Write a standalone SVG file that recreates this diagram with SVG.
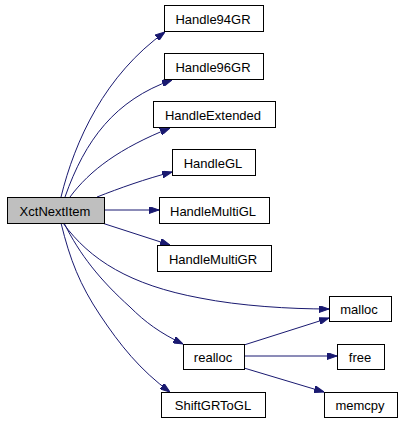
<svg xmlns="http://www.w3.org/2000/svg" width="402" height="421" viewBox="0 0 402 421">
<style>
.n rect{fill:#fff;stroke:#000;stroke-width:1}
.n.root rect{fill:#bfbfbf}
.n text{font-family:"Liberation Sans",Arial,sans-serif;font-size:13px;fill:#000;text-anchor:middle}
.e path{fill:none;stroke:#191970;stroke-width:1;marker-end:url(#ah)}
</style>
<defs>
<marker id="ah" viewBox="0 0 10 7" refX="10" refY="3.5" markerWidth="10" markerHeight="7" orient="auto" markerUnits="userSpaceOnUse">
<path d="M0,0 L10,3.5 L0,7 Z" fill="#191970" stroke="#191970"/>
</marker>
</defs>
<rect width="402" height="421" fill="#fff"/>
<g id="edges" class="e">
<path d="M61,197 C75,140 105,75 165,32"/>
<path d="M65,197 C85,140 115,100 172,80"/>
<path d="M70,197 C90,170 120,148 170,128"/>
<path d="M97,197 C120,188 145,179 172,172"/>
<path d="M104,210 L159,210"/>
<path d="M102,223 L170,245"/>
<path d="M63,223 C90,260 130,285 200,298 C240,306 290,309 329,309"/>
<path d="M64,223 C80,255 100,280 130,307 C145,322 160,333 183,344"/>
<path d="M61,223 C70,260 80,285 100,315 C120,345 140,370 170,392"/>
<path d="M244,345 L329,318"/>
<path d="M244,356 L337,356"/>
<path d="M244,368 L324,392"/>
</g>
<g id="XctNextItem" class="n root"><rect x="7.5" y="197.5" width="97" height="26"/><text x="55" y="215.5">XctNextItem</text></g>
<g id="Handle94GR" class="n"><rect x="164.5" y="5.5" width="99" height="26"/><text x="213" y="23.5">Handle94GR</text></g>
<g id="Handle96GR" class="n"><rect x="164.5" y="53.5" width="99" height="26"/><text x="213" y="71.5">Handle96GR</text></g>
<g id="HandleExtended" class="n"><rect x="153.5" y="101.5" width="122" height="26"/><text x="213" y="119.5">HandleExtended</text></g>
<g id="HandleGL" class="n"><rect x="172.5" y="149.5" width="83" height="26"/><text x="213" y="167.5">HandleGL</text></g>
<g id="HandleMultiGL" class="n"><rect x="159.5" y="197.5" width="110" height="26"/><text x="213" y="215.5">HandleMultiGL</text></g>
<g id="HandleMultiGR" class="n"><rect x="157.5" y="245.5" width="114" height="26"/><text x="213" y="263.5">HandleMultiGR</text></g>
<g id="malloc" class="n"><rect x="329.5" y="296.5" width="62" height="25"/><text x="359" y="314">malloc</text></g>
<g id="realloc" class="n"><rect x="183.5" y="344.5" width="61" height="25"/><text x="213" y="362">realloc</text></g>
<g id="free" class="n"><rect x="337.5" y="344.5" width="47" height="25"/><text x="360" y="362">free</text></g>
<g id="ShiftGRToGL" class="n"><rect x="161.5" y="392.5" width="104" height="25"/><text x="213" y="410">ShiftGRToGL</text></g>
<g id="memcpy" class="n"><rect x="324.5" y="392.5" width="73" height="25"/><text x="360" y="410">memcpy</text></g>
</svg>
